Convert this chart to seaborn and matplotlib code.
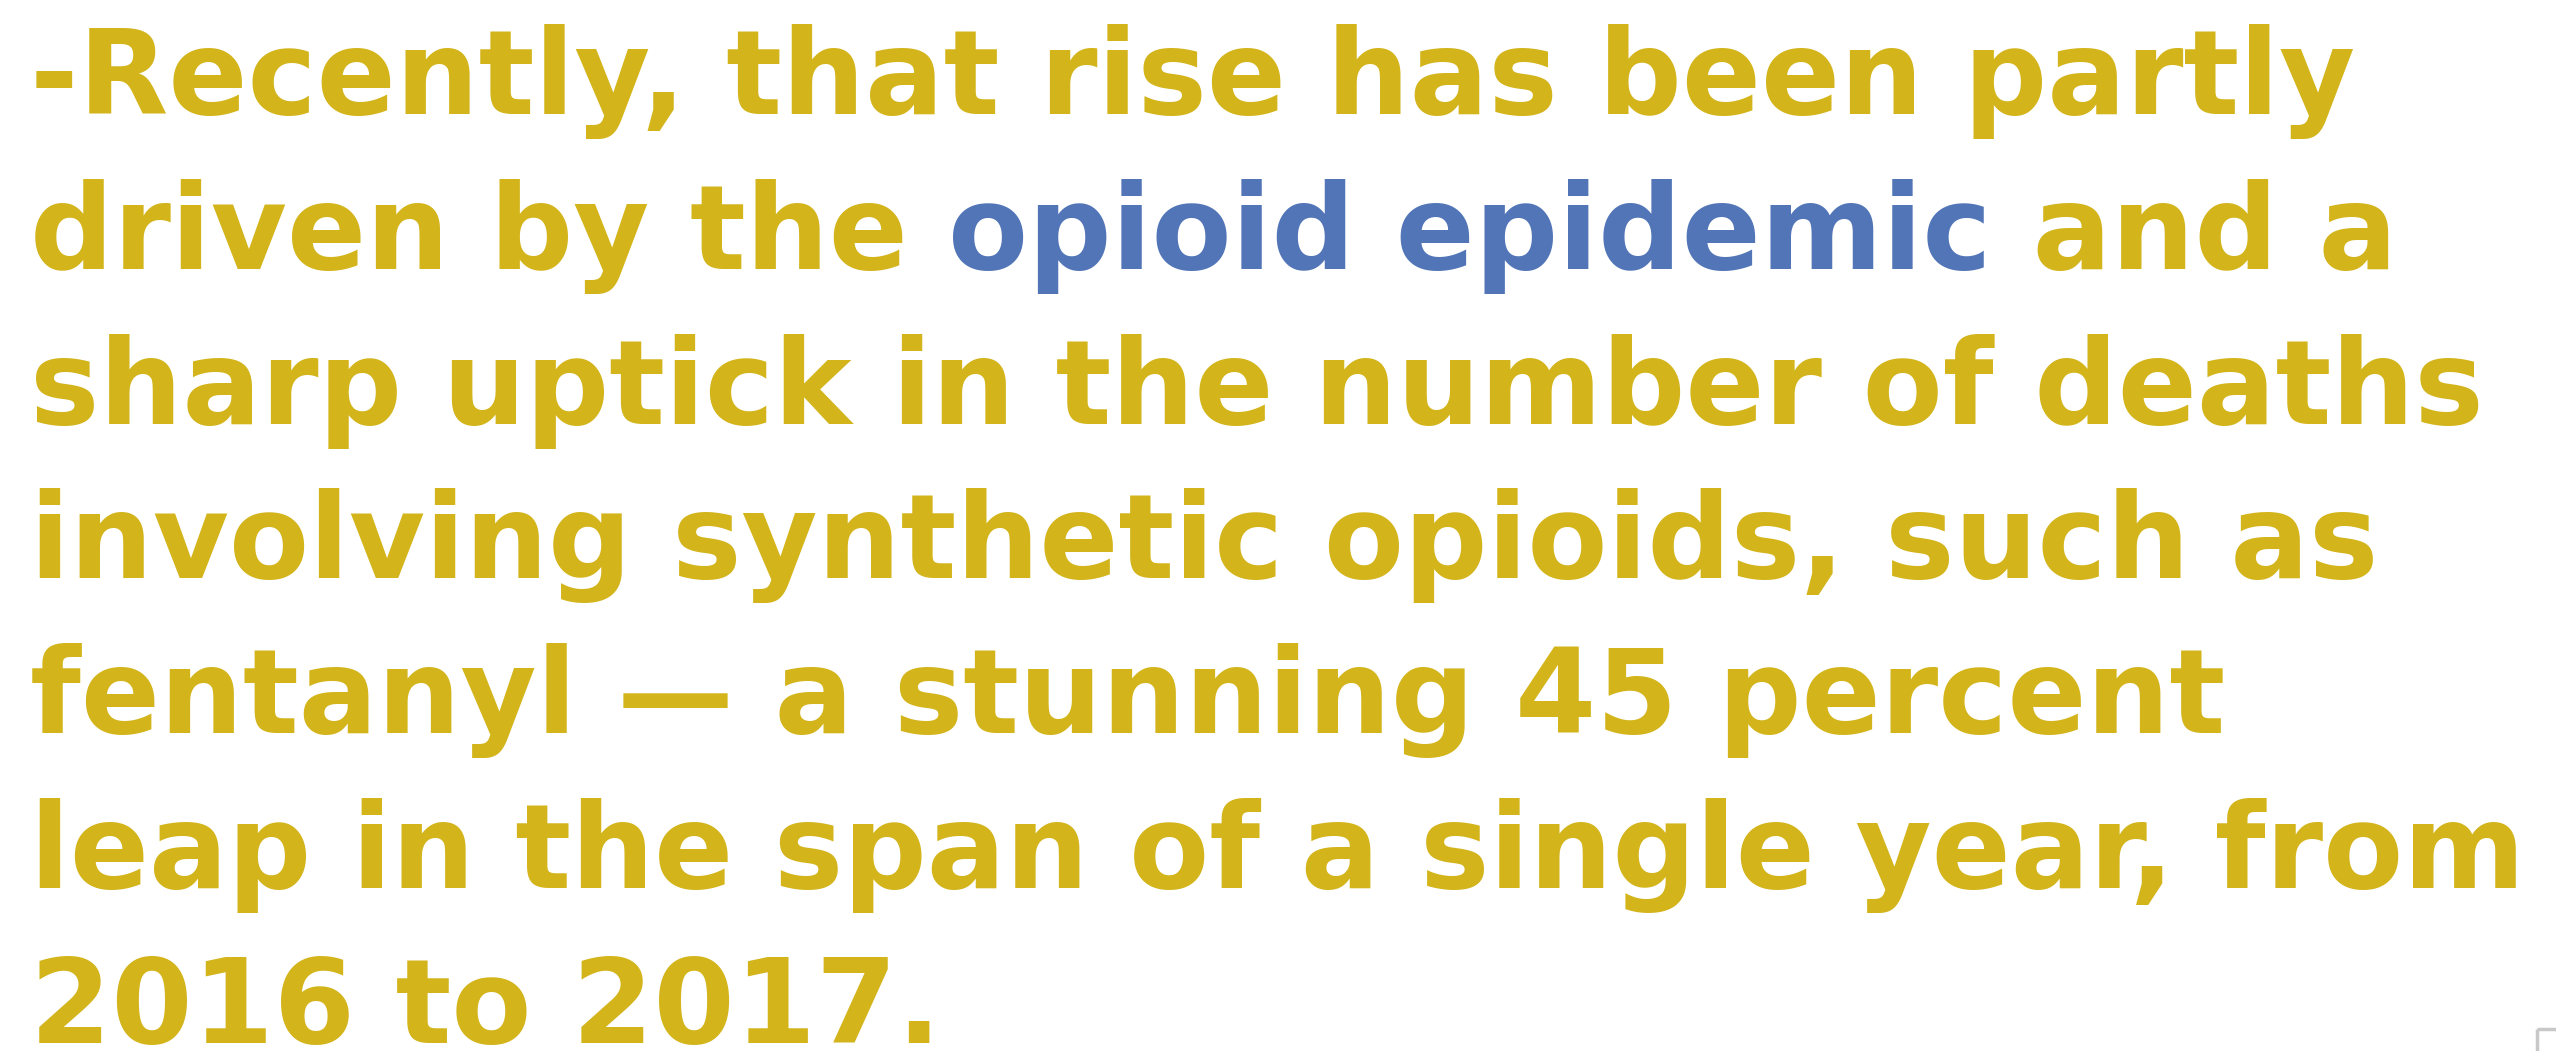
import matplotlib
matplotlib.use("Agg")
import matplotlib.pyplot as plt
import seaborn as sns

# Text of the quote, one entry per line as it wraps in the picture
lines = [
    "-Recently, that rise has been partly",
    "driven by the opioid epidemic and a",
    "sharp uptick in the number of deaths",
    "involving synthetic opioids, such as",
    "fentanyl \u2014 a stunning 45 percent",
    "leap in the span of a single year, from",
    "2016 to 2017.",
]
highlight = "opioid epidemic"

gold = "#D3B41B"
blue = "#5175B7"

sns.set_theme(style="white")
plt.rcParams["font.family"] = ["DejaVu Sans"]
plt.rcParams["font.weight"] = "bold"

W, H = 2556, 1051
fig = plt.figure(figsize=(W / 100, H / 100), dpi=100)
ax = fig.add_axes([0, 0, 1, 1])
ax.set_xlim(0, W)
ax.set_ylim(H, 0)
ax.axis("off")

x0 = 30
first_base = 114
pitch = 154.8

# fit the font size so the widest line spans about the same width as in the reference
renderer = fig.canvas.get_renderer()
widths = []
for line in lines:
    probe = ax.text(0, 0, line, fontsize=80, fontweight="bold")
    widths.append(probe.get_window_extent(renderer).width)
    probe.remove()
fs = 80 * 2500 / max(widths)

for i, line in enumerate(lines):
    y = first_base + i * pitch
    if highlight in line:
        before, after = line.split(highlight)
        t = ax.text(x0, y, before, fontsize=fs, fontweight="bold", color=gold, va="baseline")
        t = ax.annotate(highlight, xy=(1, 0), xycoords=t, va="bottom", fontsize=fs,
                        fontweight="bold", color=blue)
        ax.annotate(after, xy=(1, 0), xycoords=t, va="bottom", fontsize=fs,
                    fontweight="bold", color=gold)
    else:
        ax.text(x0, y, line, fontsize=fs, fontweight="bold", color=gold, va="baseline")

# small grey corner mark at the bottom right
ax.plot([2537, W], [1029, 1029], color="#c8c8c8", lw=2.5, solid_capstyle="butt")
ax.plot([2537, 2537], [1029, H], color="#c8c8c8", lw=2.5, solid_capstyle="butt")

fig.savefig("out.png", dpi=100)
